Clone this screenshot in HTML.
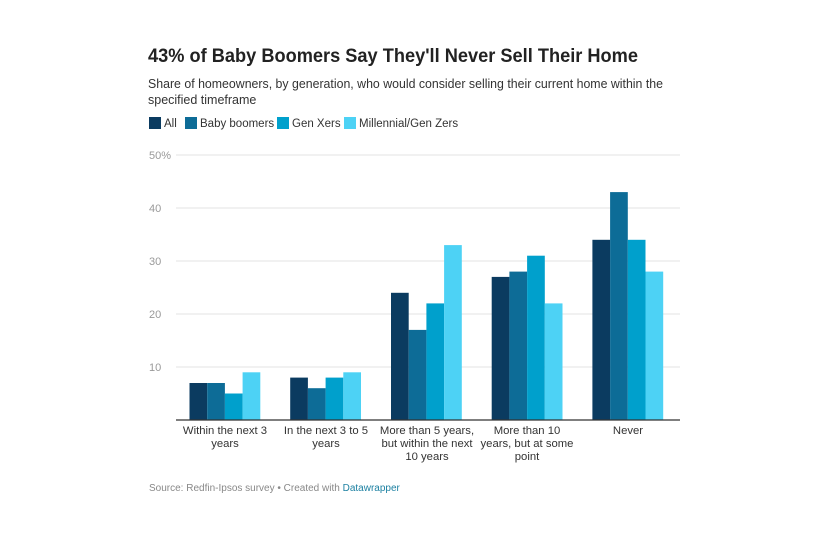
<!DOCTYPE html>
<html><head><meta charset="utf-8"><style>
body{margin:0;background:#fff;width:830px;height:539px;overflow:hidden;font-family:"Liberation Sans",sans-serif;}
</style></head><body>
<svg width="830" height="539" xmlns="http://www.w3.org/2000/svg" font-family="Liberation Sans, sans-serif">
<text x="148" y="62" font-size="19" font-weight="bold" fill="#222" textLength="490" lengthAdjust="spacingAndGlyphs">43% of Baby Boomers Say They'll Never Sell Their Home</text>
<text x="148" y="88" font-size="12.5" fill="#333" textLength="515" lengthAdjust="spacingAndGlyphs">Share of homeowners, by generation, who would consider selling their current home within the</text>
<text x="148" y="104" font-size="12.5" fill="#333">specified timeframe</text>
<rect x="149" y="117" width="12" height="12" fill="#0b3b60"/><text x="164" y="127" font-size="11.5" fill="#333">All</text>
<rect x="185" y="117" width="12" height="12" fill="#0d6c97"/><text x="200" y="127" font-size="11.5" fill="#333">Baby boomers</text>
<rect x="277" y="117" width="12" height="12" fill="#00a0cc"/><text x="292" y="127" font-size="11.5" fill="#333">Gen Xers</text>
<rect x="344" y="117" width="12" height="12" fill="#4dd2f5"/><text x="359" y="127" font-size="11.5" fill="#333">Millennial/Gen Zers</text>
<g stroke="#e3e3e3" stroke-width="1">
<line x1="176" y1="155" x2="680" y2="155"/><line x1="176" y1="208" x2="680" y2="208"/><line x1="176" y1="261" x2="680" y2="261"/><line x1="176" y1="314" x2="680" y2="314"/><line x1="176" y1="367" x2="680" y2="367"/>
</g>
<g font-size="11" fill="#999">
<text x="149" y="159">50%</text><text x="149" y="212">40</text><text x="149" y="265">30</text><text x="149" y="318">20</text><text x="149" y="371">10</text>
</g>
<g font-size="11.3" fill="#333" text-anchor="middle">
<text x="225" y="434">Within the next 3</text><text x="225" y="447">years</text>
<text x="326" y="434">In the next 3 to 5</text><text x="326" y="447">years</text>
<text x="427" y="434">More than 5 years,</text><text x="427" y="447">but within the next</text><text x="427" y="460">10 years</text>
<text x="527" y="434">More than 10</text><text x="527" y="447">years, but at some</text><text x="527" y="460">point</text>
<text x="628" y="434">Never</text>
</g>
<text x="149" y="491" font-size="10" fill="#888">Source: Redfin-Ipsos survey • Created with <tspan fill="#1d81a2">Datawrapper</tspan></text>
<g>
<rect x="189.5" y="383" width="17.7" height="37" fill="#0b3b60"/><rect x="207.2" y="383" width="17.7" height="37" fill="#0d6c97"/><rect x="224.9" y="393.5" width="17.7" height="26.5" fill="#00a0cc"/><rect x="242.6" y="372.3" width="17.7" height="47.7" fill="#4dd2f5"/>
<rect x="290.2" y="377.6" width="17.7" height="42.4" fill="#0b3b60"/><rect x="307.9" y="388.2" width="17.7" height="31.8" fill="#0d6c97"/><rect x="325.6" y="377.6" width="17.7" height="42.4" fill="#00a0cc"/><rect x="343.3" y="372.3" width="17.7" height="47.7" fill="#4dd2f5"/>
<rect x="391" y="292.8" width="17.7" height="127.2" fill="#0b3b60"/><rect x="408.7" y="329.9" width="17.7" height="90.1" fill="#0d6c97"/><rect x="426.4" y="303.4" width="17.7" height="116.6" fill="#00a0cc"/><rect x="444.1" y="245.1" width="17.7" height="174.9" fill="#4dd2f5"/>
<rect x="491.7" y="276.9" width="17.7" height="143.1" fill="#0b3b60"/><rect x="509.4" y="271.6" width="17.7" height="148.4" fill="#0d6c97"/><rect x="527.1" y="255.7" width="17.7" height="164.3" fill="#00a0cc"/><rect x="544.8" y="303.4" width="17.7" height="116.6" fill="#4dd2f5"/>
<rect x="592.4" y="239.8" width="17.7" height="180.2" fill="#0b3b60"/><rect x="610.1" y="192.1" width="17.7" height="227.9" fill="#0d6c97"/><rect x="627.8" y="239.8" width="17.7" height="180.2" fill="#00a0cc"/><rect x="645.5" y="271.6" width="17.7" height="148.4" fill="#4dd2f5"/>
</g>
<line x1="176" y1="420" x2="680" y2="420" stroke="#333" stroke-width="1.3"/>
</svg>
</body></html>
